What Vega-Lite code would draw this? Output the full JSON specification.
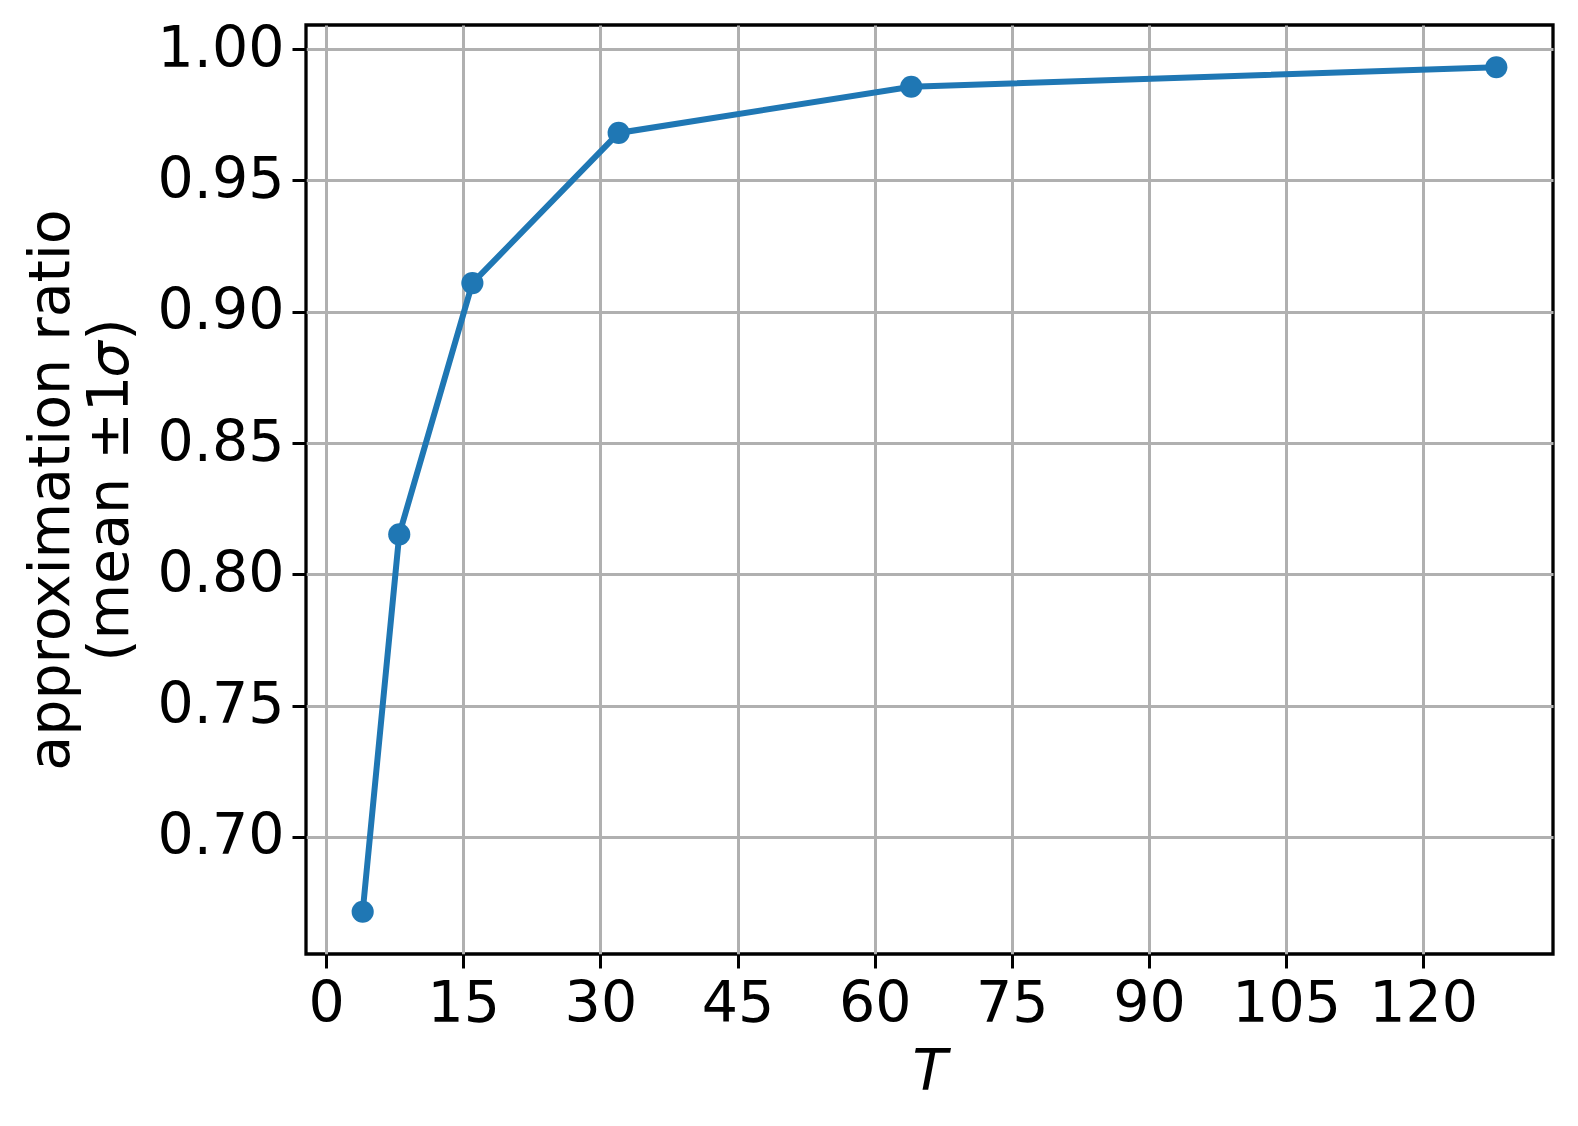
{
  "$schema": "https://vega.github.io/schema/vega-lite/v6.json",
  "width": 1247,
  "height": 929,
  "autosize": {"type": "none"},
  "padding": {"left": 306, "top": 25, "right": 25, "bottom": 172},
  "background": "white",
  "config": {
    "font": "DejaVu Sans",
    "view": {"stroke": "black", "strokeWidth": 3.3},
    "axis": {
      "labelFont": "DejaVu Sans",
      "titleFont": "DejaVu Sans",
      "labelFontSize": 57,
      "titleFontSize": 57,
      "labelColor": "black",
      "titleColor": "black",
      "titleFontWeight": "normal",
      "tickColor": "black",
      "tickSize": 14,
      "tickWidth": 3,
      "labelPadding": 8,
      "domain": false,
      "gridColor": "#b0b0b0",
      "gridWidth": 3,
      "gridOpacity": 1
    }
  },
  "data": {
    "values": [
      {"T": 4, "ratio": 0.6715},
      {"T": 8, "ratio": 0.8152},
      {"T": 16, "ratio": 0.9109},
      {"T": 32, "ratio": 0.9681},
      {"T": 64, "ratio": 0.9857},
      {"T": 128, "ratio": 0.9931}
    ]
  },
  "encoding": {
    "x": {
      "field": "T",
      "type": "quantitative",
      "scale": {"domain": [-2.2, 134.2], "nice": false, "zero": false},
      "axis": {"values": [0, 15, 30, 45, 60, 75, 90, 105, 120], "title": "T", "titleFontStyle": "italic", "titlePadding": 12, "labelFlush": false}
    },
    "y": {
      "field": "ratio",
      "type": "quantitative",
      "scale": {"domain": [0.6554, 1.0092], "nice": false, "zero": false},
      "axis": {"values": [0.7, 0.75, 0.8, 0.85, 0.9, 0.95, 1.0], "format": ".2f", "title": ["approximation ratio", "(mean ±1𝜎)"], "titlePadding": 18, "labelFlush": false, "titleLineHeight": 59}
    }
  },
  "layer": [
    {"mark": {"type": "line", "color": "#1f77b4", "strokeWidth": 6}},
    {"mark": {"type": "point", "filled": true, "color": "#1f77b4", "opacity": 1, "size": 490}}
  ]
}
